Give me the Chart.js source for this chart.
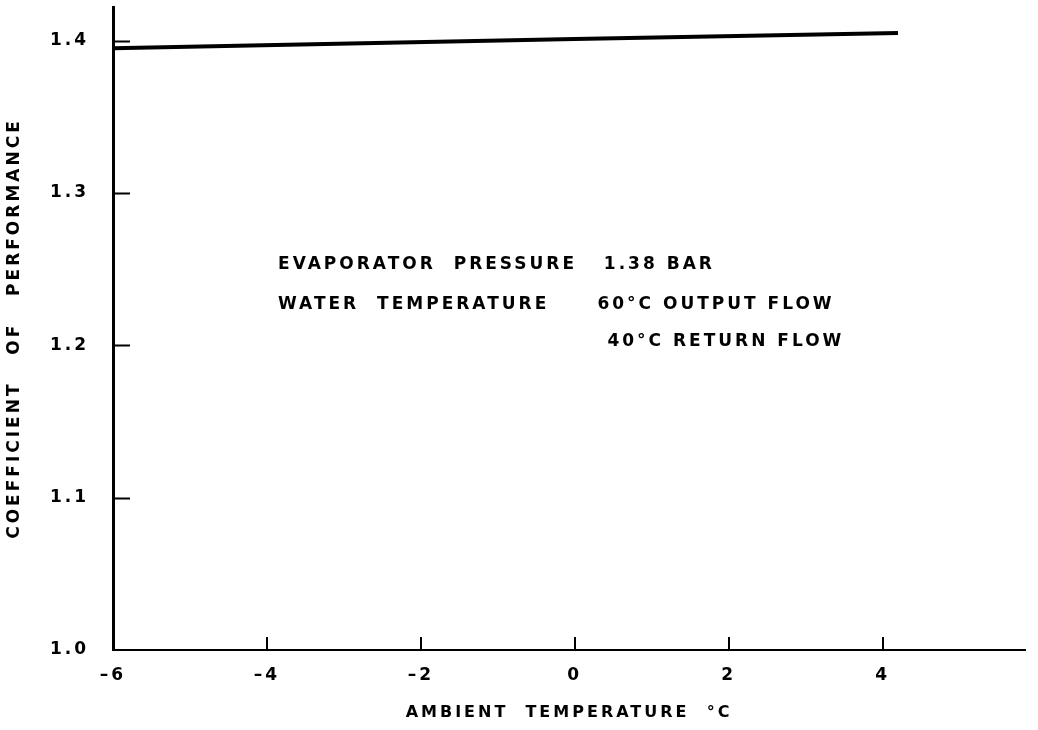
<!DOCTYPE html>
<html>
<head>
<meta charset="utf-8">
<script src="https://cdn.jsdelivr.net/npm/chart.js@4/dist/chart.umd.min.js"></script>
<style>
  body { margin: 0; background: #fff; }
  #wrap { width: 1038px; height: 730px; }
</style>
</head>
<body>
<div id="wrap"><canvas id="copChart" width="1038" height="730"></canvas></div>
<script>
// values
const ambientTemp = [-6, 0, 4.2];           // °C
const cop = [1.395, 1.401, 1.405];          // coefficient of performance
const xTicks = [-6, -4, -2, 0, 2, 4];
const yTicks = [1.0, 1.1, 1.2, 1.3, 1.4];
const notes = [
  "EVAPORATOR  PRESSURE   1.38 BAR",
  "WATER  TEMPERATURE",
  "60°C OUTPUT FLOW",
  "40°C RETURN FLOW",
];

const FONT = "'DejaVu Sans', sans-serif";

// spaced-out stencil lettering like the original drawing
const spacing = {
  id: "spacing",
  beforeUpdate(chart) { chart.ctx.letterSpacing = "3px"; },
  beforeDraw(chart) { chart.ctx.letterSpacing = "3px"; },
};

// inward tick marks + the text block in the plot
const extras = {
  id: "extras",
  afterDraw(chart) {
    const { ctx, chartArea, scales } = chart;
    const x = scales.x, y = scales.y;
    ctx.save();
    ctx.strokeStyle = "#000";
    ctx.lineWidth = 2;
    ctx.beginPath();
    y.ticks.forEach(t => {
      if (t.value === 1.0) return;
      const py = Math.round(y.getPixelForValue(t.value)) + 0.5;
      ctx.moveTo(chartArea.left, py);
      ctx.lineTo(chartArea.left + 17, py);
    });
    x.ticks.forEach(t => {
      if (t.value === -6) return;
      const px = Math.round(x.getPixelForValue(t.value));
      ctx.moveTo(px, chartArea.bottom);
      ctx.lineTo(px, chartArea.bottom - 13);
    });
    ctx.stroke();

    ctx.letterSpacing = "3px";
    ctx.fillStyle = "#000";
    ctx.font = "bold 17px " + FONT;
    ctx.textBaseline = "middle";
    ctx.textAlign = "left";
    const pos = [[-3.855, 1.253], [-3.855, 1.2267], [0.294, 1.2267], [0.424, 1.2024]];
    notes.forEach((s, i) => {
      ctx.fillText(s, x.getPixelForValue(pos[i][0]), y.getPixelForValue(pos[i][1]));
    });
    ctx.restore();
  },
};

new Chart(document.getElementById("copChart"), {
  type: "line",
  data: {
    datasets: [{
      label: "COP",
      data: ambientTemp.map((t, i) => ({ x: t, y: cop[i] })),
      borderColor: "#000",
      borderWidth: 4,
      pointRadius: 0,
      tension: 0,
    }],
  },
  options: {
    responsive: false,
    animation: false,
    layout: { padding: { top: 7, right: 13, left: 0, bottom: 0 } },
    plugins: {
      legend: { display: false },
      tooltip: { enabled: false },
    },
    scales: {
      x: {
        type: "linear",
        min: -6,
        max: 5.85,
        afterBuildTicks: s => { s.ticks = xTicks.map(v => ({ value: v })); },
        afterFit: s => { s.height = 80; s.paddingLeft = 0; s.paddingRight = 0; },
        grid: { drawOnChartArea: false, drawTicks: false },
        border: { color: "#000", width: 2 },
        ticks: {
          color: "#000",
          padding: 15,
          font: { family: FONT, size: 17, weight: "bold" },
          callback: v => (v < 0 ? "\u2013" + Math.abs(v) : String(v)),
          maxRotation: 0,
        },
        title: {
          display: true,
          text: "AMBIENT  TEMPERATURE  \u00B0C",
          color: "#000",
          font: { family: FONT, size: 16, weight: "bold" },
          padding: { top: 0, bottom: 8 },
        },
      },
      y: {
        min: 1.0,
        max: 1.422,
        afterBuildTicks: s => { s.ticks = yTicks.map(v => ({ value: v })); },
        afterFit: s => { s.width = 113; s.paddingTop = 0; s.paddingBottom = 0; },
        grid: { drawOnChartArea: false, drawTicks: false },
        border: { color: "#000", width: 3 },
        ticks: {
          color: "#000",
          padding: 24,
          font: { family: FONT, size: 17, weight: "bold" },
          callback: v => v.toFixed(1),
        },
        title: {
          display: true,
          text: "COEFFICIENT   OF   PERFORMANCE",
          color: "#000",
          font: { family: FONT, size: 17, weight: "bold" },
          padding: { top: 4, bottom: 0 },
        },
      },
    },
  },
  plugins: [spacing, extras],
});
</script>
</body>
</html>
